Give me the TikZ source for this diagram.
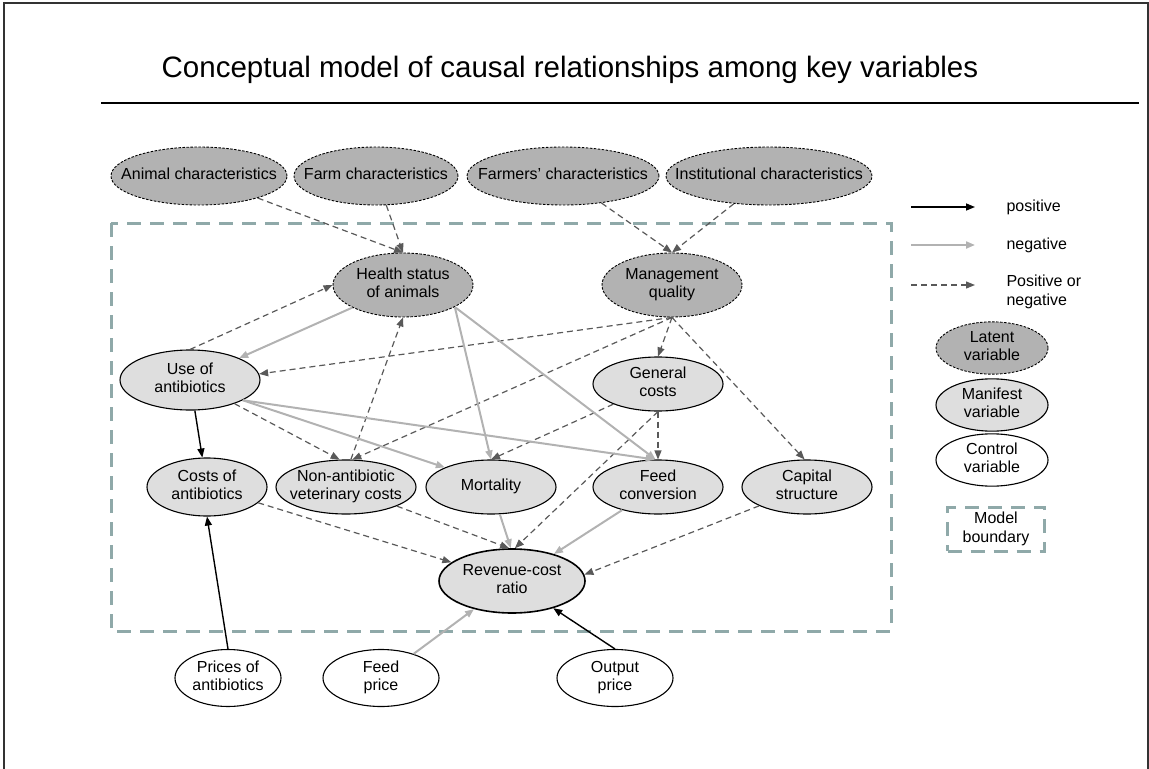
\documentclass[tikz,border=0pt]{standalone}
\usepackage{fontspec}
\setmainfont{Liberation Sans}
\usetikzlibrary{arrows.meta, shapes.geometric, positioning}
\definecolor{boundaryGray}{RGB}{143,169,169}
\newcommand{\ovalText}[1]{\makebox[0pt]{\begin{tabular}{@{}c@{}}#1\end{tabular}}}

\begin{document}
\begin{tikzpicture}[x=1bp, y=-1bp,
        font=\fontsize{16bp}{18.5bp}\selectfont,
        varOval/.style={ellipse, inner sep=0pt, line width=1.1bp},
        latentVar/.style={varOval, draw, fill=black!30, dash pattern=on 2.5bp off 1.5bp, line width=0.9bp},
        manifestVar/.style={varOval, draw, fill=black!13},
        controlVar/.style={varOval, draw, fill=white},
        arrowTip/.style={-{Triangle[length=9bp,width=7bp]}},
        posArrow/.style={arrowTip, black, line width=1.4bp},
        negArrow/.style={arrowTip, black!30, line width=2bp},
        eitherArrow/.style={arrowTip, black!65, line width=1.2bp, dash pattern=on 6bp off 4bp},
        boundary/.style={boundaryGray, line width=3bp, dash pattern=on 14bp off 9bp}]
        \useasboundingbox (0,0) rectangle (1149,769);

        % Frame and title
        \draw[black!80, line width=1.5bp] (4,769) -- (4,3) -- (1148,3) -- (1148,769);
        \node[font=\fontsize{29.5bp}{34bp}\selectfont] (title) at (570,70) {Conceptual model of causal relationships among key variables};
        \draw[line width=2bp] (101,103) -- (1139,103);

        % Model boundary
        \draw[boundary] (111,223) rectangle (891,631);

        % Latent variables
        \node[latentVar, minimum width=176bp, minimum height=58bp] (animalChar) at (199,176) {\ovalText{Animal characteristics}};
        \node[latentVar, minimum width=164bp, minimum height=58bp] (farmChar) at (376,176) {\ovalText{Farm characteristics}};
        \node[latentVar, minimum width=192bp, minimum height=58bp] (farmerChar) at (563,176) {\ovalText{Farmers’ characteristics}};
        \node[latentVar, minimum width=206bp, minimum height=58bp] (instChar) at (769,176) {\ovalText{Institutional characteristics}};
        \node[latentVar, minimum width=140bp, minimum height=64bp] (healthStatus) at (403,285) {\ovalText{Health status\\of animals}};
        \node[latentVar, minimum width=140bp, minimum height=64bp] (mgmtQuality) at (672,285) {\ovalText{Management\\quality}};

        % Manifest variables
        \node[manifestVar, minimum width=140bp, minimum height=60bp] (useAnti) at (190,380) {\ovalText{Use of\\antibiotics}};
        \node[manifestVar, minimum width=130bp, minimum height=54bp] (generalCosts) at (658,384) {\ovalText{General\\costs}};
        \node[manifestVar, minimum width=120bp, minimum height=58bp] (costsAnti) at (207,487) {\ovalText{Costs of\\antibiotics}};
        \node[manifestVar, minimum width=140bp, minimum height=54bp] (nonAnti) at (346,487) {\ovalText{Non-antibiotic\\veterinary costs}};
        \node[manifestVar, minimum width=130bp, minimum height=54bp] (mortality) at (491,487) {\ovalText{Mortality}};
        \node[manifestVar, minimum width=130bp, minimum height=54bp] (feedConv) at (658,487) {\ovalText{Feed\\conversion}};
        \node[manifestVar, minimum width=130bp, minimum height=54bp] (capitalStruct) at (807,487) {\ovalText{Capital\\structure}};
        \node[manifestVar, line width=1.6bp, minimum width=146bp, minimum height=64bp] (revCost) at (512,581) {\ovalText{Revenue-cost\\ratio}};

        % Control variables
        \node[controlVar, minimum width=106bp, minimum height=57bp] (antiPrice) at (228,678) {\ovalText{Prices of\\antibiotics}};
        \node[controlVar, minimum width=116bp, minimum height=57bp] (feedPrice) at (381,678) {\ovalText{Feed\\price}};
        \node[controlVar, minimum width=116bp, minimum height=57bp] (outputPrice) at (615,678) {\ovalText{Output\\price}};

        % Positive or negative links
        \draw[eitherArrow] (animalChar) -- (healthStatus.north);
        \draw[eitherArrow] (farmChar) -- (healthStatus.north);
        \draw[eitherArrow] (farmerChar) -- (mgmtQuality.north);
        \draw[eitherArrow] (instChar) -- (mgmtQuality.north);
        \draw[eitherArrow] (useAnti.north) -- (healthStatus.west);
        \draw[eitherArrow] (nonAnti.80) -- (healthStatus.south);
        \draw[eitherArrow] (mgmtQuality.south) -- (useAnti.5);
        \draw[eitherArrow] (mgmtQuality.south) -- (generalCosts.north);
        \draw[eitherArrow] (mgmtQuality.south) -- (capitalStruct.95);
        \draw[eitherArrow] (mgmtQuality.south) -- (nonAnti.77);
        \draw[eitherArrow] (useAnti.-28) -- (nonAnti.103);
        \draw[eitherArrow] (generalCosts) -- (mortality.north);
        \draw[eitherArrow] (generalCosts.south) -- (feedConv.north);
        \draw[eitherArrow] (generalCosts.south) -- (revCost.85);
        \draw[eitherArrow] (costsAnti) -- (revCost);
        \draw[eitherArrow] (nonAnti) -- (revCost.95);
        \draw[eitherArrow] (capitalStruct) -- (revCost.5);

        % Negative links
        \draw[negArrow] (healthStatus) -- (useAnti);
        \draw[negArrow] (healthStatus.-23) -- (mortality.north);
        \draw[negArrow] (healthStatus.-23) -- (feedConv.95);
        \draw[negArrow] (useAnti.-21) -- (mortality.157);
        \draw[negArrow] (useAnti.-21) -- (feedConv.97);
        \draw[negArrow] (mortality) -- (revCost.92);
        \draw[negArrow] (feedConv) -- (revCost);
        \draw[negArrow] (feedPrice) -- (revCost);

        % Positive links
        \draw[posArrow] (useAnti) -- (costsAnti);
        \draw[posArrow] (antiPrice.north) -- (costsAnti.south);
        \draw[posArrow] (outputPrice.north) -- (revCost);

        % Legend
        \coordinate (legPosA) at (911,207);
        \coordinate (legPosB) at (975,207);
        \coordinate (legNegA) at (911,245);
        \coordinate (legNegB) at (975,245);
        \coordinate (legEitherA) at (911,285);
        \coordinate (legEitherB) at (975,285);
        \draw[posArrow] (legPosA) -- (legPosB);
        \draw[negArrow] (legNegA) -- (legNegB);
        \draw[eitherArrow] (legEitherA) -- (legEitherB);
        \node[anchor=west] (legPosText) at (1003,207) {positive};
        \node[anchor=west] (legNegText) at (1003,245) {negative};
        \node[anchor=west, align=left] (legEitherText) at (1003,292) {Positive or\\negative};
        \node[latentVar, minimum width=112bp, minimum height=46bp] (legLatent) at (992,348) {\ovalText{Latent\\variable}};
        \node[manifestVar, minimum width=112bp, minimum height=46bp] (legManifest) at (992,405) {\ovalText{Manifest\\variable}};
        \node[controlVar, minimum width=112bp, minimum height=46bp] (legControl) at (992,460) {\ovalText{Control\\variable}};
        \node[boundary, draw, text=black, minimum width=97bp, minimum height=44bp, align=center, inner sep=0pt] (legBoundary) at (996,529) {Model\\boundary};
\end{tikzpicture}
\end{document}
